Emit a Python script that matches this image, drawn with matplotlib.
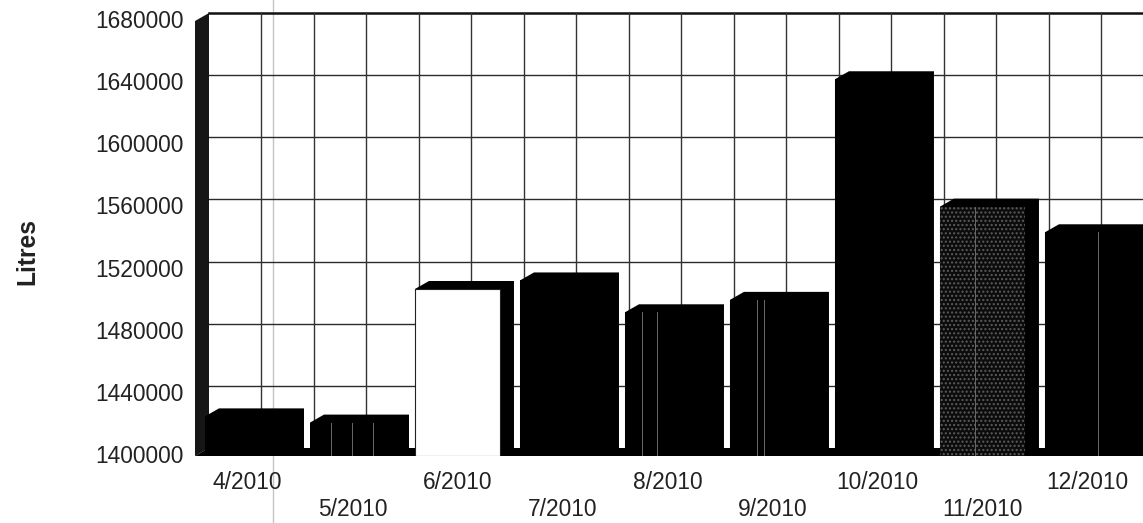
import matplotlib
matplotlib.use('Agg')
import matplotlib.pyplot as plt
from matplotlib.lines import Line2D
from matplotlib.transforms import ScaledTranslation

months = ['4/2010', '5/2010', '6/2010', '7/2010', '8/2010', '9/2010', '10/2010', '11/2010', '12/2010']
litres = [1425500, 1421500, 1507500, 1513000, 1492500, 1500500, 1642500, 1560500, 1544000]
y_ticks = [1400000, 1440000, 1480000, 1520000, 1560000, 1600000, 1640000, 1680000]

plt.rcParams['font.family'] = ['Liberation Sans', 'DejaVu Sans']

W, H = 1143, 523
fig = plt.figure(figsize=(W / 100, H / 100), dpi=100, facecolor='white')
ax = fig.add_axes([195 / W, (H - 456) / H, (W - 195) / W, 435 / H])
ax.patch.set_visible(False)
ax.set_xlim(-0.5, 8.529)
ax.set_ylim(1400000, 1680000)
for s in ax.spines.values():
    s.set_visible(False)

# 3d depth of the old excel style chart, in data units
dx = 14 / 105
dy = 8 * 280000 / 435
bar_w = 85 / 105

# scan artefact that runs down the whole page
fig.add_artist(Line2D([273 / W, 273 / W], [0, 1], transform=fig.transFigure,
                      color='#c4c4c4', lw=1.0, zorder=-1))

# back wall grid
right = ax.get_xlim()[1]
for v in y_ticks[1:-1]:
    ax.plot([-0.5 + dx, right], [v + dy, v + dy], color='#2a2a2a', lw=1.0, zorder=1, clip_on=False)
ax.plot([-0.5 + dx, right], [1680000 + dy] * 2, color='#111111', lw=1.8, zorder=1, clip_on=False)
k = -0.5 + dx + 0.5
while k < right:
    ax.plot([k, k], [1400000 + dy, 1680000 + dy], color='#333333', lw=1.0, zorder=1, clip_on=False)
    k += 0.5

# left wall and floor
ax.fill([-0.5, -0.5, -0.5 + dx, -0.5 + dx], [1400000, 1680000, 1680000 + dy, 1400000 + dy],
        color='#161616', lw=0, zorder=2, clip_on=False)
ax.fill([-0.5, right, right, -0.5 + dx], [1400000, 1400000, 1400000 + dy, 1400000 + dy],
        color='black', lw=0, zorder=2, clip_on=False)

# bars
for i, v in enumerate(litres):
    x0 = i - bar_w / 2
    x1 = i + bar_w / 2
    ax.fill([x0, x0, x0 + dx, x1 + dx, x1 + dx, x1],
            [1400000, v, v + dy, v + dy, 1400000 + dy, 1400000],
            color='black', lw=0, zorder=3, clip_on=False)
    if i == 2:
        ax.bar(i, v - 1400000, bar_w, bottom=1400000, color='white', edgecolor='#222222',
               lw=0.8, zorder=4)
    elif i == 7:
        ax.bar(i, v - 1400000, bar_w, bottom=1400000, color='#0c0c0c', edgecolor='#5c5c5c',
               hatch='....', lw=0, zorder=4)
    else:
        ax.bar(i, v - 1400000, bar_w, bottom=1400000, color='black', lw=0, zorder=4)

# faint pale streaks the scan left on some bars (bar index, offset in bar widths)
streaks = [(1, -0.25), (1, 0.0), (1, 0.24), (4, -0.3), (4, -0.12), (5, -0.18), (5, -0.1), (7, -0.09), (8, 0.12)]
for i, off in streaks:
    ax.plot([i + off * bar_w] * 2, [1400000, litres[i]], color='#6a6a6a', lw=0.7, zorder=5)

ax.set_yticks(y_ticks)
ax.set_yticklabels([str(v) for v in y_ticks], fontsize=16.4, color='#222222')
ax.tick_params(axis='y', length=0, pad=8)
shift = ScaledTranslation(0, 2 / 100, fig.dpi_scale_trans)
for lab in ax.get_yticklabels():
    lab.set_transform(lab.get_transform() + shift)

ax.set_xticks(range(len(months)))
ax.set_xticklabels([m if i % 2 == 0 else '\n' + m for i, m in enumerate(months)],
                   fontsize=16.4, color='#222222', linespacing=1.2)
ax.tick_params(axis='x', length=0, pad=11)

fig.text(27 / W, 1 - 252 / H, 'Litres', rotation=90, fontsize=17.7, fontweight='bold',
         color='#222222', ha='center', va='center')

fig.savefig('out.png', dpi=100)
